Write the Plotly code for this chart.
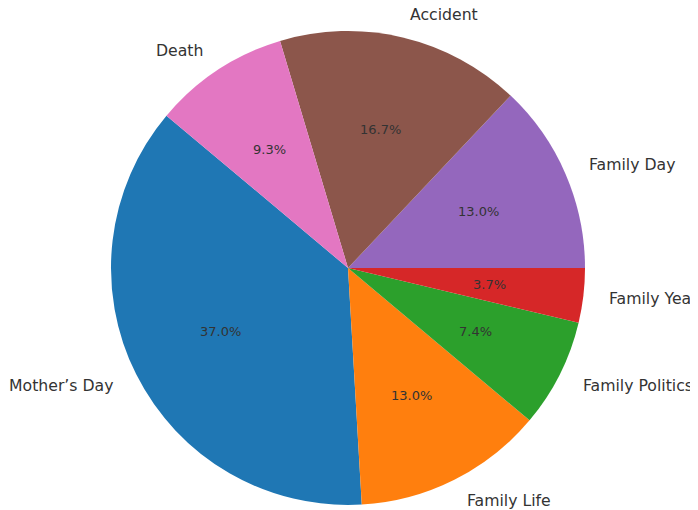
import math
import plotly.graph_objects as go

labels = ["Mother’s Day", "Family Life", "Family Politics", "Family Year",
          "Family Day", "Accident", "Death"]
counts = [20, 7, 4, 2, 7, 9, 5]
colors = ["#1f77b4", "#ff7f0e", "#2ca02c", "#d62728", "#9467bd", "#8c564b", "#e377c2"]
start_angle = 140  # degrees, counterclockwise from east

W, H = 698, 510
PAGE_OFF = 8  # default body margin of the html page
cx_px, cy_px, r_px = 348 - PAGE_OFF, 268 - PAGE_OFF, 237

cx = cx_px / W
cy = (H - cy_px) / H
rx = r_px / W
ry = r_px / H

total = sum(counts)
# plotly: with counterclockwise direction, the first slice ends at `rotation`
rotation = 90 - start_angle - 360 * counts[0] / total

fig = go.Figure(go.Pie(
    labels=labels, values=counts, sort=False,
    direction="counterclockwise", rotation=rotation,
    marker=dict(colors=colors, line=dict(width=0)),
    textinfo="none", hoverinfo="label+percent",
    domain=dict(x=[cx - rx, cx + rx], y=[cy - ry, cy + ry]),
    showlegend=False,
))

ann = []
acc = 0.0
for lab, v in zip(labels, counts):
    frac = v / total
    mid = math.radians(start_angle + 360 * (acc + frac / 2))
    acc += frac
    c, s = math.cos(mid), math.sin(mid)
    ann.append(dict(
        x=cx + 1.1 * rx * c, y=cy + 1.1 * ry * s, xref="paper", yref="paper",
        text=lab, showarrow=False, xanchor="left" if c > 0 else "right",
        yanchor="middle", font=dict(family="DejaVu Sans", size=15.7, color="#333333"),
    ))
    ann.append(dict(
        x=cx + 0.6 * rx * c, y=cy + 0.6 * ry * s, xref="paper", yref="paper",
        text=f"{frac*100:.1f}%", showarrow=False, xanchor="center",
        yanchor="middle", font=dict(family="DejaVu Sans", size=13, color="#333333"),
    ))

fig.update_layout(
    width=W, height=H, margin=dict(l=0, r=0, t=0, b=0),
    paper_bgcolor="white", plot_bgcolor="white",
    annotations=ann,
)
fig.write_html("out.html")
